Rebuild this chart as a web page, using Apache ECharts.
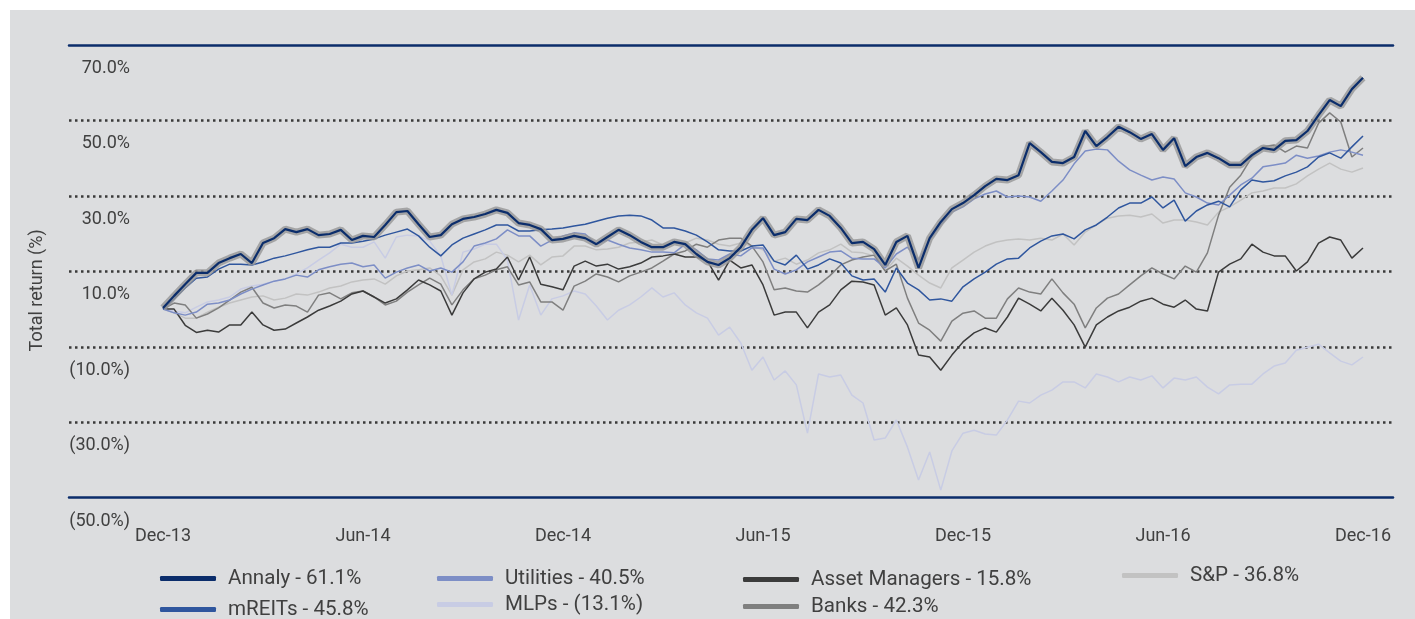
<!DOCTYPE html>
<html><head><meta charset="utf-8">
<script src="https://cdn.jsdelivr.net/npm/echarts/dist/echarts.min.js"></script>
<style>
html,body{margin:0;padding:0;background:#ffffff;}
#panel{position:absolute;left:10px;top:10px;width:1405px;height:609px;background:#dcdddf;}
#chart{position:absolute;left:0;top:0;width:1415px;height:619px;}
</style></head><body>
<div id="panel"></div><div id="chart"></div>
<script>
// x step between samples, in months after Dec-13
const STEP_MONTHS = 1/3;
const xTickMonths = [0, 6, 12, 18, 24, 30, 36];
const xTickLabels = ['Dec-13', 'Jun-14', 'Dec-14', 'Jun-15', 'Dec-15', 'Jun-16', 'Dec-16'];
const yTicks = [-50, -30, -10, 10, 30, 50, 70];
const yTickLabels = ['(50.0%)', '(30.0%)', '(10.0%)', '10.0%', '30.0%', '50.0%', '70.0%'];
const seriesNames = ['Annaly - 61.1%', 'mREITs - 45.8%', 'Utilities - 40.5%', 'MLPs - (13.1%)',
  'Asset Managers - 15.8%', 'Banks - 42.3%', 'S&P - 36.8%'];

const annaly = [0.3,3.5,6.6,9.6,9.6,12.2,13.5,14.6,12.2,17.5,
18.8,21.2,20.4,21.2,19.6,19.9,21.0,18.3,19.4,19.1,
22.3,25.7,26.0,22.5,19.1,19.6,22.5,23.9,24.4,25.2,
26.3,25.5,22.8,22.3,21.2,18.3,18.6,19.4,18.8,17.2,
19.1,21.0,19.6,17.8,16.4,16.4,17.8,17.2,14.6,12.5,
11.7,13.5,16.4,21.0,24.1,19.6,20.4,23.9,23.6,26.3,
24.7,21.5,17.5,17.8,15.9,11.7,17.8,19.4,10.9,18.8,
23.1,26.5,28.1,30.2,32.6,34.5,34.2,35.5,44.0,41.6,
39.0,38.7,40.3,47.2,43.2,45.6,48.3,46.9,45.1,46.4,
42.2,45.3,37.9,40.3,41.4,40.0,38.2,38.2,40.8,42.7,
42.2,44.6,44.8,47.2,51.4,55.4,53.8,58.3,61.3];
const mreits = [0,2.7,5.6,8.2,8.5,10.6,11.9,11.9,11.7,12.5,
13.5,14.1,14.9,15.7,16.4,16.4,17.5,17.5,18.0,18.6,
19.6,20.4,21.2,19.4,16.4,14.1,17.0,18.8,19.9,21.0,
22.3,22.3,20.7,20.7,21.0,21.2,21.5,22.0,22.5,23.3,
24.1,24.7,24.9,24.7,23.6,21.5,21.5,20.7,19.6,17.8,
15.7,15.4,15.4,16.7,17.0,12.7,11.7,14.3,10.6,11.7,
13.3,12.2,8.8,7.7,8.0,4.5,10.9,6.9,5.1,2.4,
2.7,2.1,5.9,8.0,9.8,11.9,13.3,13.5,16.2,18.0,
19.4,19.9,18.6,21.0,22.3,24.4,26.8,28.1,28.1,29.7,
26.8,28.9,23.3,26.0,27.6,28.6,27.1,31.6,34.2,33.7,
34.0,35.3,36.3,37.7,40.3,41.4,40.0,43.0,45.9];
const utilities = [0,-1.0,-1.6,-0.8,1.3,1.6,2.4,4.0,5.3,6.4,
7.4,8.0,9.0,8.5,10.4,11.2,11.9,12.2,11.2,11.7,
8.2,9.8,10.9,11.7,10.1,10.9,9.8,12.5,16.7,17.5,
18.6,21.0,19.4,19.4,16.7,18.3,19.4,20.2,19.9,17.2,
18.3,17.2,16.2,15.7,15.1,15.1,14.9,17.2,15.7,13.3,
13.0,14.6,14.1,16.2,16.2,10.6,9.3,10.4,12.5,13.8,
15.1,15.4,13.5,13.3,13.3,10.9,14.6,16.4,13.0,18.3,
22.3,25.7,27.1,29.2,30.5,31.3,29.7,30.0,29.7,28.6,
31.3,34.2,38.5,41.9,42.4,42.2,39.2,36.9,35.5,34.2,
35.0,34.5,30.8,29.7,28.1,27.6,30.2,32.9,34.7,37.7,
38.2,38.7,40.8,40.0,40.6,41.6,42.2,41.6,40.8];
const mlps = [0,-0.5,-1.0,0.5,1.9,2.4,3.2,5.3,6.1,6.6,
7.4,8.0,9.3,10.9,13.0,14.9,17.2,16.4,16.4,17.8,
13.5,19.1,19.6,19.4,18.0,14.1,3.7,15.1,15.9,17.2,
17.2,13.0,-2.9,6.4,-1.6,2.7,3.5,4.8,4.0,0.8,
-2.9,-0.3,1.1,3.2,5.6,3.2,4.3,1.1,-1.0,-2.4,
-6.9,-4.8,-9.0,-16.2,-12.7,-18.8,-16.4,-20.1,-32.9,-17.2,
-18.0,-17.5,-22.8,-24.9,-34.7,-34.2,-29.4,-36.6,-45.3,-37.9,
-48.0,-37.6,-32.9,-32.1,-33.1,-33.4,-29.4,-24.4,-24.9,-22.8,
-21.5,-19.3,-19.3,-20.9,-17.2,-18.0,-19.3,-18.0,-18.8,-17.7,
-20.9,-18.3,-18.8,-18.0,-20.7,-22.5,-20.1,-19.9,-19.9,-17.2,
-15.1,-14.3,-10.9,-10.1,-9.3,-11.6,-13.8,-14.8,-12.7];
const assetManagers = [0,0,-4.3,-6.2,-5.6,-6.1,-4.2,-4.2,-0.8,-4.2,
-5.6,-5.3,-3.7,-2.1,-0.3,0.8,2.1,4.0,4.8,3.2,
1.6,2.7,5.1,7.7,6.4,4.8,-1.6,4.3,8.0,9.8,
10.6,13.8,7.7,13.8,6.6,5.9,5.1,11.4,12.7,11.4,
11.9,10.6,11.2,12.2,13.8,14.1,14.6,13.8,13.8,12.7,
7.7,13.0,10.9,11.7,6.4,-1.6,-0.8,-0.8,-5.0,-0.8,
1.1,5.1,7.4,7.2,6.4,-1.6,0.3,-4.2,-12.2,-12.7,
-16.2,-12.2,-8.7,-6.3,-5.0,-6.1,-2.1,2.9,1.3,-0.5,
2.9,-0.3,-4.2,-10.1,-4.2,-2.1,-0.5,0.5,2.1,2.9,
1.3,0.5,2.4,0.0,-0.5,9.8,11.9,13.3,17.2,15.1,
14.1,14.1,10.1,12.5,17.5,19.1,18.3,13.5,16.2];
const banks = [0,1.6,1.1,-2.4,-1.3,0.3,2.4,4.5,5.8,1.6,
0.3,1.1,0.8,-0.8,3.7,4.3,2.7,4.3,4.8,3.2,
1.1,2.1,4.5,6.4,8.2,6.6,1.1,5.1,8.0,9.0,
10.4,11.2,6.4,7.2,1.9,1.9,-0.3,6.1,7.4,9.3,
8.5,7.2,8.8,9.8,10.9,12.7,14.6,15.4,17.2,16.4,
18.3,18.8,18.8,16.7,12.5,5.1,5.6,4.8,4.5,6.4,
8.8,11.7,13.0,13.8,14.3,10.1,11.9,2.9,-3.7,-5.6,
-8.5,-3.2,-1.1,-0.5,-2.4,-2.4,2.7,5.6,4.5,4.0,
8.0,4.3,1.3,-5.0,0.3,2.9,4.0,6.4,8.8,10.9,
9.3,8.0,11.4,9.8,14.9,24.9,32.3,35.5,40.3,43.0,
43.5,41.6,43.2,42.7,49.3,52.0,49.6,40.3,42.7];
const sp = [0,-1.0,-2.4,-2.4,-0.8,0.5,1.6,2.4,3.2,3.5,
2.4,2.9,4.0,3.7,4.5,5.6,6.1,7.2,7.7,8.0,
6.6,8.8,10.1,10.4,10.9,8.8,3.7,10.4,12.5,13.3,
15.1,14.3,12.5,14.3,11.7,13.8,14.1,16.7,16.7,15.7,
15.9,16.4,17.5,17.8,18.3,17.0,17.8,17.5,18.8,18.3,
17.2,16.7,17.5,16.7,15.7,12.7,13.5,11.9,13.0,14.9,
15.7,17.2,15.1,14.9,14.1,10.1,13.5,11.4,9.0,6.9,
5.6,10.9,13.0,15.1,16.7,17.8,18.3,18.6,18.3,18.8,
18.3,19.9,17.0,20.4,22.3,24.1,24.7,24.9,24.4,25.2,
22.8,23.6,23.6,23.1,22.3,25.7,27.1,28.9,30.8,31.3,
32.1,32.1,33.2,35.3,37.1,38.7,37.1,36.3,37.4];

const FONT = 'Roboto, "Noto Sans", sans-serif';
const TXT = '#404040';
const NAVY = '#0b2d6b';
const pts = arr => arr.map((v, j) => [j * STEP_MONTHS, v]);
const lineSeries = (name, data, color, width, z) => ({
  name, type: 'line', data: pts(data), showSymbol: false, symbol: 'none',
  lineStyle: { color, width }, itemStyle: { color }, color, z,
  silent: true, animation: false, smooth: false
});

const chart = echarts.init(document.getElementById('chart'), null, { renderer: 'canvas' });
const xBase = {
  type: 'value', min: -2.82, max: 36.9, z: 5,
  axisTick: { show: false }, splitLine: { show: false }
};
const legendBase = {
  orient: 'vertical', itemWidth: 56, itemHeight: 5, icon: 'roundRect', selectedMode: false,
  height: 120, padding: 0,
  textStyle: { fontSize: 20.6, lineHeight: 20, color: TXT, fontFamily: FONT, padding: [0, 0, 0, 7] }
};
chart.setOption({
  backgroundColor: 'transparent',
  animation: false,
  grid: { left: 69, right: 22, top: 45, bottom: 121.3, containLabel: false },
  xAxis: [
    Object.assign({}, xBase, {
      position: 'bottom',
      axisLine: { show: true, onZero: false, lineStyle: { color: NAVY, width: 2.5 } },
      axisLabel: {
        customValues: xTickMonths, margin: 30, fontSize: 18, color: TXT, fontFamily: FONT,
        formatter: v => xTickLabels[xTickMonths.indexOf(Math.round(v))] || ''
      }
    }),
    Object.assign({}, xBase, {
      position: 'top',
      axisLine: { show: true, onZero: false, lineStyle: { color: NAVY, width: 2.5 } },
      axisLabel: { show: false }
    })
  ],
  yAxis: {
    type: 'value', min: -50, max: 70, interval: 20,
    axisLine: { show: false }, axisTick: { show: false },
    splitLine: { show: true, showMinLine: false, showMaxLine: false,
      lineStyle: { color: '#3a3a3a', width: 2.5, type: [2.5, 3.5] } },
    axisLabel: {
      inside: true, margin: 61, align: 'right', verticalAlign: 'top', lineHeight: 47,
      fontSize: 18, color: TXT, fontFamily: FONT, showMinLabel: true, showMaxLabel: true,
      formatter: v => yTickLabels[yTicks.indexOf(Math.round(v))] || ''
    },
    name: 'Total return (%)', nameLocation: 'middle', nameGap: 23, nameRotate: 90,
    nameTextStyle: { fontSize: 18, color: TXT, fontFamily: FONT, padding: [0, 38, 0, 0] }
  },
  legend: [
    Object.assign({}, legendBase, { data: [seriesNames[0], seriesNames[1]], left: 160, top: 568, itemGap: 10 }),
    Object.assign({}, legendBase, { data: [seriesNames[2], seriesNames[3]], left: 437, top: 568, itemGap: 5 }),
    Object.assign({}, legendBase, { data: [seriesNames[4], seriesNames[5]], left: 743, top: 569, itemGap: 6 }),
    Object.assign({}, legendBase, { data: [seriesNames[6]], left: 1122, top: 565 })
  ],
  series: [
    lineSeries(seriesNames[6], sp, '#c2c2c2', 1.5, 2),
    lineSeries(seriesNames[3], mlps, '#c8cce4', 1.5, 2),
    lineSeries(seriesNames[5], banks, '#7f7f7f', 1.5, 2),
    lineSeries(seriesNames[4], assetManagers, '#3b3b3b', 1.5, 2),
    lineSeries(seriesNames[2], utilities, '#7d8ec6', 1.5, 2),
    lineSeries(seriesNames[1], mreits, '#2f569e', 1.5, 2),
    lineSeries('annaly-halo', annaly, 'rgba(150,150,150,0.8)', 7, 3),
    lineSeries(seriesNames[0], annaly, NAVY, 2.2, 4)
  ]
});
</script>
</body></html>
